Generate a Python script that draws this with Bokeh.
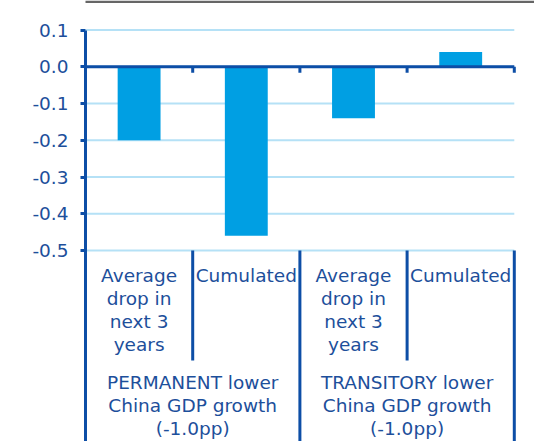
from bokeh.plotting import figure
from bokeh.models import Range1d, FixedTicker, PrintfTickFormatter, BoxAnnotation
from bokeh.core.properties import value
from bokeh.embed import file_html
from bokeh.resources import INLINE

# ---- data ----
categories = ["Average\ndrop in\nnext 3\nyears", "Cumulated", "Average\ndrop in\nnext 3\nyears", "Cumulated"]
groups = ["PERMANENT lower\nChina GDP growth\n(-1.0pp)", "TRANSITORY lower\nChina GDP growth\n(-1.0pp)"]
values = [-0.20, -0.46, -0.14, 0.04]
y_ticks = [0.1, 0.0, -0.1, -0.2, -0.3, -0.4, -0.5]

# ---- style ----
BAR = "#009fe3"
AXIS = "#0d4ea6"
TEXT = "#1d4f9b"
GRID = "#b5e1f6"
RULE = "#666666"
FONT = "DejaVu Sans"
FS = "18.5px"

W, H = 534, 441
LEFT = 85
zero_px, scale = 66.25, 367.5      # value-axis layout (px of zero, px per unit)
x_scale = 107.2                    # px per category
y_end = zero_px / scale
y_start = y_end - H / scale
n = len(values)
x_end = (W - LEFT) / x_scale

p = figure(width=W, height=H, output_backend="svg", toolbar_location=None,
           x_range=Range1d(0, x_end), y_range=Range1d(y_start, y_end),
           x_axis_location=None, min_border_left=LEFT, min_border_right=0,
           min_border_top=0, min_border_bottom=0)
p.outline_line_color = None
p.background_fill_color = "white"
p.xgrid.visible = False
p.ygrid.visible = False

ax = p.yaxis[0]
ax.ticker = FixedTicker(ticks=y_ticks)
ax.formatter = PrintfTickFormatter(format="%.1f")
ax.bounds = (y_start, max(y_ticks))
ax.axis_line_color = AXIS
ax.axis_line_width = 3
ax.major_tick_line_color = AXIS
ax.major_tick_line_width = 3
ax.major_tick_out = 5
ax.major_tick_in = 0
ax.minor_tick_line_color = None
ax.major_label_text_font = FONT
ax.major_label_text_font_size = FS
ax.major_label_text_color = TEXT
ax.major_label_standoff = 12

# horizontal gridlines across the categories
m = len(y_ticks)
p.segment(x0=[0] * m, y0=y_ticks, x1=[n] * m, y1=y_ticks, line_color=GRID, line_width=2)

xs = [i + 0.5 for i in range(n)]
p.vbar(x=xs, top=values, bottom=0, width=0.4, color=BAR, line_color=None)

# zero axis line with ticks
p.segment(x0=[0], y0=[0], x1=[n], y1=[0], line_color=AXIS, line_width=3)
tick_len = 6 / scale
p.segment(x0=list(range(1, n + 1)), y0=[0] * n, x1=list(range(1, n + 1)), y1=[-tick_len] * n,
          line_color=AXIS, line_width=3)

# category separators below the plot
low = min(y_ticks)
sub_bottom = -(360 - zero_px) / scale
sep_x = list(range(1, n + 1))
sep_bottom = [sub_bottom if i % 2 == 1 else y_start for i in sep_x]
p.segment(x0=sep_x, y0=[low] * n, x1=sep_x, y1=sep_bottom, line_color=AXIS, line_width=3)

# category labels
sub_top = -(264 - zero_px) / scale
p.text(x=xs, y=[sub_top] * n, text=categories, text_align="center", text_baseline="top",
       text_font=value(FONT), text_font_size=FS, text_color=TEXT, text_line_height=1.1)
gx = [2 * i + 1 for i in range(len(groups))]
grp_top = -(371 - zero_px) / scale
p.text(x=gx, y=[grp_top] * len(groups), text=groups, text_align="center", text_baseline="top",
       text_font=value(FONT), text_font_size=FS, text_color=TEXT, text_line_height=1.1)

# gray rule at the very top
p.add_layout(BoxAnnotation(left=14, right=W, top=0, bottom=2.5,
                           left_units="canvas", right_units="canvas",
                           top_units="canvas", bottom_units="canvas",
                           fill_color=RULE, fill_alpha=1, line_color=None))

open("out.html", "w").write(file_html(p, INLINE))
